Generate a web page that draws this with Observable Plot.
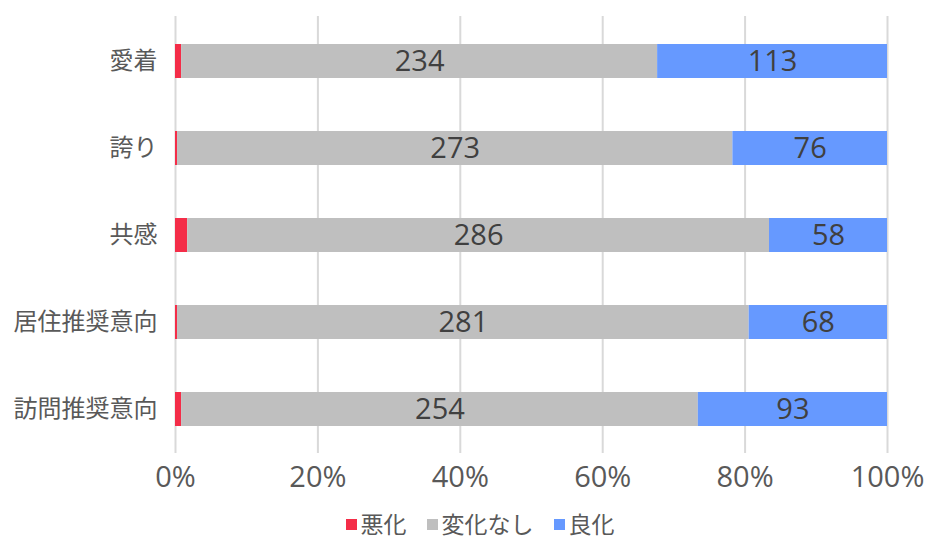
<!DOCTYPE html>
<html><head><meta charset="utf-8">
<script src="https://cdn.jsdelivr.net/npm/d3@7"></script>
<script src="https://cdn.jsdelivr.net/npm/@observablehq/plot@0.6"></script>
<style>
body{margin:0;background:#fff;font-family:"Open Sans","Noto Sans CJK JP",sans-serif;overflow:hidden;position:relative;width:930px;height:541px}
#chart svg{display:block}
#legend{position:absolute;left:0;right:0;top:506px;display:flex;justify-content:center;gap:20px;font-size:23px;line-height:normal;color:#595959;padding-left:30px;font-family:"Noto Sans CJK JP",sans-serif}
#legend span{display:inline-flex;align-items:center}
#legend i{display:inline-block;width:11px;height:11px;margin-right:4px;margin-top:3px}
</style></head>
<body><div id="chart"></div><div id="legend"></div>
<script>
const categories = ["愛着","誇り","共感","居住推奨意向","訪問推奨意向"];
const seriesNames = ["悪化","変化なし","良化"];
const worse = [3,1,6,1,3];
const same = [234,273,286,281,254];
const better = [113,76,58,68,93];
const colors = ["#f42d48","#bfbfbf","#6699ff"];
const xTicks = [0,0.2,0.4,0.6,0.8,1];

const data = [];
categories.forEach((c,i)=>{
  [worse,same,better].forEach((arr,j)=>data.push({cat:c, series:seriesNames[j], value:arr[i]}));
});

const fmt = d=>Math.round(d*100)+"%";
const chart = Plot.plot({
  width: 930, height: 500,
  marginLeft: 175, marginRight: 43, marginTop: 16, marginBottom: 47,
  style:{fontFamily:'"Open Sans","Noto Sans CJK JP",sans-serif', background:"#fff"},
  x:{domain:[0,1], ticks:xTicks, tickFormat:fmt, label:null, axis:null},
  y:{domain:categories, paddingInner:0.61, paddingOuter:0.305, label:null, axis:null},
  color:{domain:seriesNames, range:colors},
  marks:[
    Plot.gridX(xTicks,{stroke:"#d9d9d9", strokeWidth:2, strokeOpacity:1}),
    Plot.barX(data, Plot.stackX({x:"value", y:"cat", z:"series", fill:"series", offset:"normalize", order:null})),
    Plot.text(data, Plot.stackX({x:"value", y:"cat", z:"series", offset:"normalize", order:null,
      text:d=>d.series==="悪化"?"":String(d.value), fill:"#404040", fontSize:29})),
    Plot.axisX(xTicks,{tickSize:0, tickPadding:13, fontSize:29, fill:"#595959", tickFormat:fmt}),
    Plot.axisY(categories,{tickSize:0, tickPadding:18, fontSize:24, fill:"#595959", fontFamily:'"Noto Sans CJK JP",sans-serif'})
  ]
});
document.getElementById("chart").appendChild(chart);
const lg = document.getElementById("legend");
seriesNames.forEach((s,i)=>{
  const sp=document.createElement("span");
  sp.innerHTML=`<i style="background:${colors[i]}"></i>${s}`;
  lg.appendChild(sp);
});
</script></body></html>
